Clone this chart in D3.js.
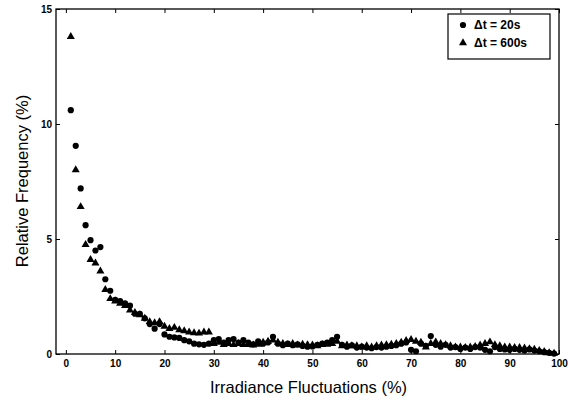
<!DOCTYPE html>
<html>
<head>
<meta charset="utf-8">
<script src="https://cdn.jsdelivr.net/npm/d3@7"></script>
<style>
  body { margin: 0; background: #fff; }
  .tick text { font-family: "Liberation Sans", Arial, sans-serif; font-weight: bold; font-size: 10px; }
</style>
</head>
<body>
<div id="chart"></div>
<script>
// fluctuation bins (%)
var bins = d3.range(1, 100);

// relative frequency (%) for dt = 20s (circles)
var freq20 = [10.6, 9.05, 7.2, 5.6, 4.95, 4.5, 4.65, 3.25, 2.75, 2.35,
  2.3, 2.2, 2.1, 1.75, 1.75, 1.55, 1.3, 1.1, 1.3, 0.85,
  0.75, 0.72, 0.7, 0.6, 0.55, 0.45, 0.42, 0.4, 0.45, 0.6,
  0.65, 0.5, 0.6, 0.65, 0.5, 0.6, 0.5, 0.42, 0.55, 0.45,
  0.5, 0.75, 0.45, 0.38, 0.45, 0.38, 0.42, 0.35, 0.32, 0.33,
  0.4, 0.45, 0.5, 0.6, 0.75, 0.4, 0.32, 0.38, 0.28, 0.32,
  0.28, 0.25, 0.3, 0.28, 0.32, 0.35, 0.38, 0.45, 0.5, 0.18,
  0.12, 0.45, 0.35, 0.78, 0.4, 0.32, 0.4, 0.28, 0.3, 0.22,
  0.28, 0.22, 0.3, 0.28, 0.18, 0.12, 0.3, 0.22, 0.2, 0.18,
  0.22, 0.18, 0.15, 0.2, 0.15, 0.12, 0.08, 0.05, 0.02];

// relative frequency (%) for dt = 600s (triangles)
var freq600 = [13.8, 8.0, 6.4, 4.75, 4.1, 3.95, 3.6, 2.8, 2.4, 2.3,
  2.2, 2.1, 1.9, 1.8, 1.7, 1.55, 1.4, 1.35, 1.4, 1.2,
  1.1, 1.15, 1.05, 1.0, 0.95, 0.92, 0.9, 0.95, 0.95, 0.45,
  0.5, 0.4, 0.45, 0.4, 0.45, 0.4, 0.4, 0.38, 0.42, 0.5,
  0.55, 0.6, 0.5, 0.45, 0.4, 0.45, 0.38, 0.42, 0.4, 0.38,
  0.35, 0.4, 0.42, 0.45, 0.55, 0.35, 0.38, 0.35, 0.35, 0.3,
  0.35, 0.3, 0.35, 0.38, 0.4, 0.42, 0.45, 0.5, 0.58, 0.62,
  0.55, 0.5, 0.3, 0.45, 0.52, 0.45, 0.4, 0.35, 0.3, 0.3,
  0.28, 0.3, 0.32, 0.38, 0.45, 0.52, 0.4, 0.35, 0.3, 0.3,
  0.28, 0.28, 0.25, 0.22, 0.2, 0.15, 0.1, 0.05, 0.03];

var xTicks = [0, 10, 20, 30, 40, 50, 60, 70, 80, 90, 100];
var yTicks = [0, 5, 10, 15];
var legendLabels = ["\u0394t = 20s", "\u0394t = 600s"];

var W = 581, H = 400;
var pLeft = 56, pRight = 559, pTop = 9, pBottom = 354;

var svg = d3.select("#chart").append("svg")
    .attr("width", W)
    .attr("height", H);

var x = d3.scaleLinear().domain([-2, 100]).range([pLeft, pRight]);
var y = d3.scaleLinear().domain([0, 15]).range([pBottom, pTop]);

// axes, ticks pointing inward
var fontFam = "'Liberation Sans', Arial, sans-serif";
svg.append("g")
    .attr("transform", "translate(0," + pBottom + ")")
    .call(d3.axisBottom(x).tickValues(xTicks).tickSizeInner(-4).tickSizeOuter(0).tickPadding(6))
    .call(function(g) { g.select(".domain").remove(); });
svg.append("g")
    .attr("transform", "translate(0," + pTop + ")")
    .call(d3.axisTop(x).tickValues(xTicks).tickSizeInner(-4).tickSizeOuter(0).tickFormat(""))
    .call(function(g) { g.select(".domain").remove(); });
svg.append("g")
    .attr("transform", "translate(" + pLeft + ",0)")
    .call(d3.axisLeft(y).tickValues(yTicks).tickSizeInner(-4).tickSizeOuter(0).tickPadding(4))
    .call(function(g) { g.select(".domain").remove(); });
svg.append("g")
    .attr("transform", "translate(" + pRight + ",0)")
    .call(d3.axisRight(y).tickValues(yTicks).tickSizeInner(-4).tickSizeOuter(0).tickFormat(""))
    .call(function(g) { g.select(".domain").remove(); });

// frame
svg.append("rect")
    .attr("x", pLeft).attr("y", pTop)
    .attr("width", pRight - pLeft).attr("height", pBottom - pTop)
    .attr("fill", "none").attr("stroke", "#000").attr("stroke-width", 1.3);

// markers
var tri = d3.symbol().type(d3.symbolTriangle).size(28);

svg.append("g").selectAll("circle")
    .data(bins)
    .enter().append("circle")
    .attr("cx", function(d) { return x(d); })
    .attr("cy", function(d, i) { return y(freq20[i]); })
    .attr("r", 3.1)
    .attr("fill", "#000");

svg.append("g").selectAll("path")
    .data(bins)
    .enter().append("path")
    .attr("d", tri)
    .attr("transform", function(d, i) { return "translate(" + x(d) + "," + y(freq600[i]) + ")"; })
    .attr("fill", "#000");

// legend
var lg = svg.append("g");
lg.append("rect")
    .attr("x", 448).attr("y", 14).attr("width", 102).attr("height", 45)
    .attr("fill", "#fff").attr("stroke", "#000").attr("stroke-width", 1.2);
lg.append("circle").attr("cx", 463).attr("cy", 25).attr("r", 3.1).attr("fill", "#000");
lg.append("path").attr("d", tri).attr("transform", "translate(463,43)").attr("fill", "#000");
lg.selectAll("text.lab")
    .data(legendLabels)
    .enter().append("text")
    .attr("class", "lab")
    .attr("x", 474)
    .attr("y", function(d, i) { return 29 + i * 18; })
    .attr("font-family", fontFam)
    .attr("font-weight", "bold")
    .attr("font-size", "12px")
    .text(function(d) { return d; });

// axis titles
svg.append("text")
    .attr("x", (pLeft + pRight) / 2 + 1)
    .attr("y", 393)
    .attr("text-anchor", "middle")
    .attr("font-family", fontFam)
    .attr("font-size", "16.5px")
    .text("Irradiance Fluctuations (%)");

svg.append("text")
    .attr("transform", "translate(28,181) rotate(-90)")
    .attr("text-anchor", "middle")
    .attr("font-family", fontFam)
    .attr("font-size", "16.5px")
    .text("Relative Frequency (%)");
</script>
</body>
</html>
